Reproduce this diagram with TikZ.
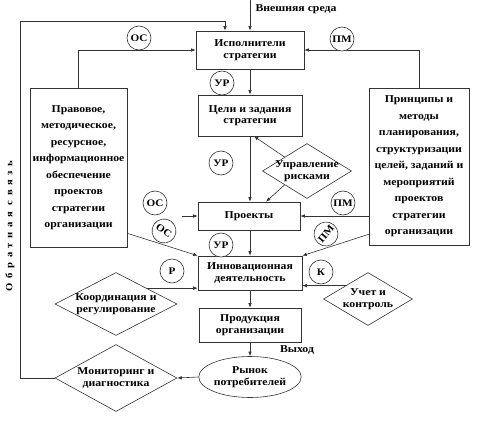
\documentclass[tikz,border=0pt]{standalone}
\usepackage{fontspec}
\setmainfont{Liberation Serif}[FakeStretch=1.12]
\usetikzlibrary{shapes.geometric,arrows.meta,calc}
\begin{document}
\begin{tikzpicture}[x=1pt,y=-1pt,
  font=\bfseries\fontsize{10.5}{11.5}\selectfont,
  ln/.style={draw=black!80,line width=0.6pt},
  arr/.style={ln,-{Latex[length=4.5pt,width=3.5pt]}},
  box/.style={ln,rectangle,inner sep=0pt,align=center},
  sidebox/.style={box,font=\bfseries\fontsize{10.5}{16.5}\selectfont},
  dia/.style={ln,diamond,inner sep=0pt},
  dtext/.style={align=center,inner sep=0pt},
  tag/.style={ln,circle,fill=white,inner sep=0pt,minimum size=24pt,font=\bfseries\fontsize{10}{10}\selectfont},
  plain/.style={inner sep=0pt}
]
\useasboundingbox (0,0) rectangle (488,423);

% boxes
\node[box,minimum width=108pt,minimum height=38pt] (isp) at (250,50) {Исполнители\\стратегии};
\node[box,minimum width=104pt,minimum height=41pt] (celi) at (250,115.5) {Цели и задания\\стратегии};
\node[box,minimum width=102pt,minimum height=28pt] (proj) at (249,216) {Проекты};
\node[box,minimum width=104pt,minimum height=34pt] (innov) at (250,273) {Инновационная\\деятельность};
\node[box,minimum width=102pt,minimum height=34pt] (prod) at (250,325) {Продукция\\организации};
\node[ln,ellipse,minimum width=101pt,minimum height=41pt,inner sep=0pt,align=center] (rynok) at (250,377) {Рынок\\потребителей};
\node[sidebox,minimum width=97pt,minimum height=159pt] (left) at (78.5,167.5) {Правовое,\\методическое,\\ресурсное,\\информационное\\обеспечение\\проектов\\стратегии\\организации};
\node[sidebox,minimum width=100pt,minimum height=157pt] (right) at (419,166.5) {Принципы и\\методы\\планирования,\\структуризации\\целей, заданий и\\мероприятий\\проектов\\стратегии\\организации};

% diamonds
\node[dia,minimum width=89pt,minimum height=55pt,label={[dtext]center:{Управление\\рисками}}] (riski) at (307,171) {};
\node[dia,minimum width=122pt,minimum height=63pt,label={[dtext]center:{Координация и\\регулирование}}] (koord) at (116,304) {};
\node[dia,minimum width=89pt,minimum height=53pt,label={[dtext]center:{Учет и\\контроль}}] (uchet) at (368,299) {};
\node[dia,minimum width=122pt,minimum height=67pt,label={[dtext]center:{Мониторинг и\\диагностика}}] (monit) at (116,378) {};

% free texts
\node[plain] (env) at (296,9) {Внешняя среда};
\node[plain] (vyhod) at (297,350) {Выход};
\node[plain,rotate=90,font=\bfseries\fontsize{9.5}{10}\selectfont] (obr) at (10,226) {\addfontfeature{LetterSpace=50}Обратная\hspace{6pt}связь};

% coordinates
\coordinate (envtop) at (250,0);
\coordinate (fbA) at (20,378);
\coordinate (fbB) at (225,21);
\coordinate (osst) at (182,216);

% connectors
\draw[arr] (envtop) -- (isp.north);
\draw[arr] (monit.west) -- (fbA) |- (fbB) -- (fbB |- isp.north);
\draw[arr] (left.north) |- (isp.west);
\draw[arr] (right.north) |- (isp.east);
\draw[arr] (isp.south) -- (celi.south |- isp.south) -- (celi.north);
\draw[arr] (celi.south) -- (celi.south |- proj.north);
\draw[arr] (riski.north west) -- ([xshift=4pt]celi.south);
\draw[arr] (riski.south west) -- ([xshift=17pt]proj.north);
\draw[arr] (osst) -- (osst -| proj.west);
\draw[arr] (right.west |- proj.east) -- (proj.east);
\draw[arr] ([yshift=14pt]left.south east) -- (innov.north west);
\draw[arr] ([yshift=11pt]right.south west) -- (innov.north east);
\draw[arr] (innov.north |- proj.south) -- (innov.north);
\draw[arr] (koord.north east) -- (koord.north east -| innov.west);
\draw[arr] (uchet.north west) -- (uchet.north west -| innov.east);
\draw[arr] (innov.south) -- (prod.north);
\draw[arr] (prod.south) -- (rynok.north);
\draw[arr] (rynok.west) -- (monit.east);

% tags
\node[tag] (os1) at (139,38) {ОС};
\node[tag] (pm1) at (342,39) {ПМ};
\node[tag] (ur1) at (222,83) {УР};
\node[tag] (ur2) at (221,163) {УР};
\node[tag] (os3) at (155,203) {ОС};
\node[tag] (pm3) at (343,203) {ПМ};
\node[tag,rotate=-35] (os4) at (164,231) {ОС};
\node[tag,rotate=50] (pm4) at (326,234) {ПМ};
\node[tag] (ur3) at (221,245) {УР};
\node[tag] (rr) at (172,271) {Р};
\node[tag] (kk) at (321,272) {К};
\end{tikzpicture}
\end{document}
